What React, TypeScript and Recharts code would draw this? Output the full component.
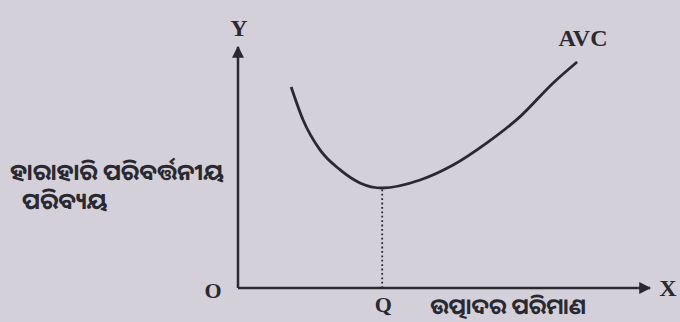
import React from "react";
import {
  LineChart,
  Line,
  XAxis,
  YAxis,
  ReferenceLine,
  ReferenceDot,
} from "recharts";

// AVC curve (x = quantity, y = cost, 0..100 units)
const quantity = [12.9, 15.8, 19.9, 24.8, 29.6, 35, 44.2, 52.2, 60.4, 68.4, 76.5, 82.3];
const avc = [83.4, 69.7, 57.3, 49.0, 43.6, 41.5, 44.8, 51.0, 60.2, 71.0, 85.1, 93.8];

const minQ = 35;
const minCost = 41.5;

const yLabelLines = ["ହାରାହାରି ପରିବର୍ତ୍ତନୀୟ", "ପରିବ୍ୟୟ"];
const xLabel = "ଉତ୍ପାଦର ପରିମାଣ";

const data = quantity.map((q, i) => ({ q, avc: avc[i] }));

const ink = "#2b2930";
const serif = "'Liberation Serif', 'DejaVu Serif', serif";
const odia = "'Noto Sans Oriya', 'Noto Sans', 'DejaVu Sans', sans-serif";

const letter = (text: string, dx: number, dy: number, size = 22) => (props: any) => {
  const { x, y } = props.viewBox;
  return (
    <text
      x={x + dx}
      y={y + dy}
      textAnchor="middle"
      dominantBaseline="central"
      fontFamily={serif}
      fontWeight="bold"
      fontSize={size}
      fill={ink}
    >
      {text}
    </text>
  );
};

const YTitle = (props: any) => {
  const { x, y } = props.viewBox;
  return (
    <text fontFamily={odia} fontWeight="bold" fontSize={23} fill={ink}>
      <tspan x={x - 228} y={y + 3} dominantBaseline="central">
        {yLabelLines[0]}
      </tspan>
      <tspan x={x - 216} y={y + 32} dominantBaseline="central">
        {yLabelLines[1]}
      </tspan>
    </text>
  );
};

const XTitle = (props: any) => {
  const { x, y } = props.viewBox;
  return (
    <text
      x={x}
      y={y + 17}
      textAnchor="middle"
      dominantBaseline="central"
      fontFamily={odia}
      fontWeight="bold"
      fontSize={22}
      fill={ink}
    >
      {xLabel}
    </text>
  );
};

export default function App() {
  return (
    <div
      style={{
        position: "fixed",
        left: 0,
        top: 0,
        width: 680,
        height: 322,
        background: "#d4d0da",
        overflow: "hidden",
      }}
    >
      <svg width={0} height={0} style={{ position: "absolute" }}>
        <defs>
          <marker
            id="arrow"
            viewBox="0 0 10 10"
            refX="9"
            refY="5"
            markerWidth="12"
            markerHeight="12"
            markerUnits="userSpaceOnUse"
            orient="auto-start-reverse"
          >
            <path d="M0,0 L10,5 L0,10 z" fill={ink} />
          </marker>
        </defs>
      </svg>
      <LineChart
        width={680}
        height={322}
        data={data}
        margin={{ top: 47, right: 30, bottom: 33, left: 237 }}
      >
        <XAxis
          dataKey="q"
          type="number"
          domain={[0, 100]}
          height={1}
          tick={false}
          tickLine={false}
          axisLine={{ stroke: ink, strokeWidth: 2.5, markerEnd: "url(#arrow)" }}
        />
        <YAxis
          type="number"
          domain={[0, 100]}
          width={1}
          tick={false}
          tickLine={false}
          axisLine={{ stroke: ink, strokeWidth: 2.5, markerStart: "url(#arrow)" }}
        />
        <ReferenceLine
          segment={[
            { x: minQ, y: 0 },
            { x: minQ, y: minCost },
          ]}
          stroke={ink}
          strokeWidth={1.8}
          strokeDasharray="1.8 2.6"
        />
        <Line
          dataKey="avc"
          type="monotone"
          stroke={ink}
          strokeWidth={2.8}
          dot={false}
          isAnimationActive={false}
        />
        <ReferenceDot x={0} y={0} r={0} label={letter("O", -25, 2, 22)} />
        <ReferenceDot x={minQ} y={0} r={0} label={letter("Q", 1, 16, 22)} />
        <ReferenceDot x={100} y={0} r={0} label={letter("X", 18, 0, 24)} />
        <ReferenceDot x={0} y={100} r={0} label={letter("Y", 1, -19, 24)} />
        <ReferenceDot
          x={quantity[quantity.length - 1]}
          y={avc[avc.length - 1]}
          r={0}
          label={letter("AVC", 6, -24, 24)}
        />
        <ReferenceDot x={0} y={50} r={0} label={YTitle} />
        <ReferenceDot x={65.5} y={0} r={0} label={XTitle} />
      </LineChart>
    </div>
  );
}
